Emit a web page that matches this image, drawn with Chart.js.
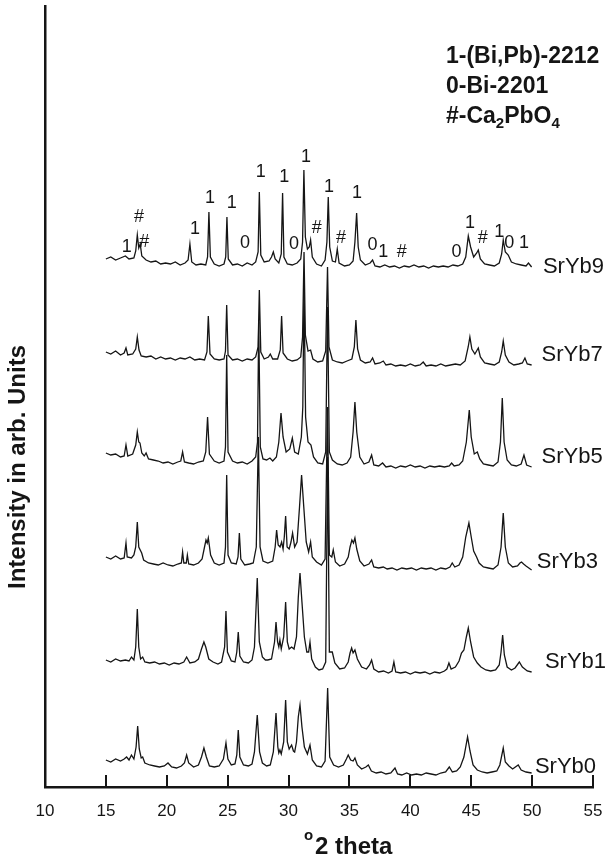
<!DOCTYPE html>
<html>
<head>
<meta charset="utf-8">
<script src="https://cdn.jsdelivr.net/npm/chart.js@4.4.1/dist/chart.umd.min.js"></script>
<style>
  html, body { margin: 0; padding: 0; background: #fff; }
  #c { display: block; }
</style>
</head>
<body>
<canvas id="c" width="610" height="858"></canvas>
<script>
// ---- Data: [2theta, intensity (arb. units)] ----
const srYb9 = [[15.0,528],[15.4,530],[15.8,527],[16.2,529],[16.6,531],[16.9,528],[17.3,529],[17.45,536],[17.58,552],[17.7,539],[17.82,543],[17.95,531],[18.3,527],[18.7,525],[19.1,526],[19.5,523],[19.9,524],[20.3,523],[20.7,525],[21.1,522],[21.5,524],[21.75,527],[21.9,543],[22.05,525],[22.4,522],[22.8,523],[23.2,522],[23.35,530],[23.46,575],[23.58,530],[23.9,523],[24.3,521],[24.7,523],[24.84,530],[24.94,570],[25.05,528],[25.4,522],[25.8,523],[26.2,521],[26.6,524],[27.0,522],[27.3,525],[27.5,535],[27.6,595],[27.72,532],[28.0,525],[28.4,526],[28.6,530],[28.75,535],[28.9,528],[29.2,524],[29.4,533],[29.51,594],[29.62,530],[29.9,523],[30.3,522],[30.7,524],[31.0,528],[31.15,545],[31.26,617],[31.38,550],[31.55,538],[31.7,540],[31.81,547],[31.95,530],[32.3,523],[32.7,521],[33.0,527],[33.15,545],[33.26,590],[33.38,540],[33.6,526],[33.85,525],[34.0,538],[34.15,524],[34.6,521],[35.0,522],[35.3,526],[35.45,545],[35.59,574],[35.72,540],[35.9,527],[36.3,522],[36.7,524],[36.9,527],[37.1,521],[37.5,520],[37.9,522],[38.3,520],[38.7,521],[39.1,519],[39.5,521],[39.9,520],[40.3,522],[40.7,520],[41.1,521],[41.5,519],[41.9,521],[42.3,520],[42.7,521],[43.1,520],[43.5,522],[43.9,521],[44.3,523],[44.55,530],[44.76,551],[44.95,540],[45.2,530],[45.45,534],[45.58,537],[45.75,528],[46.1,523],[46.5,522],[46.9,521],[47.3,524],[47.5,533],[47.63,547],[47.8,535],[48.04,532],[48.3,525],[48.7,523],[49.1,522],[49.5,521],[49.7,524],[49.96,520]];

const srYb7 = [[15.0,435],[15.4,433],[15.8,436],[16.2,432],[16.5,434],[16.65,439],[16.8,432],[17.2,433],[17.45,438],[17.58,450],[17.72,437],[17.9,431],[18.3,430],[18.7,431],[19.1,428],[19.5,430],[19.9,428],[20.3,429],[20.7,427],[21.1,429],[21.5,428],[21.9,430],[22.3,427],[22.7,428],[23.1,427],[23.3,435],[23.41,471],[23.55,433],[23.9,428],[24.3,427],[24.7,428],[24.82,436],[24.92,482],[25.03,432],[25.4,427],[25.8,428],[26.2,426],[26.6,428],[27.0,427],[27.3,430],[27.5,440],[27.6,497],[27.72,435],[28.0,428],[28.35,430],[28.5,433],[28.7,428],[29.1,428],[29.32,437],[29.43,471],[29.55,434],[29.9,428],[30.3,426],[30.7,427],[31.0,430],[31.15,450],[31.27,535],[31.38,452],[31.6,436],[31.81,437],[32.0,428],[32.4,425],[32.8,426],[33.05,436],[33.2,520],[33.32,440],[33.6,427],[34.0,425],[34.4,424],[34.8,426],[35.2,428],[35.4,440],[35.53,467],[35.67,438],[35.9,427],[36.3,424],[36.7,425],[36.9,429],[37.1,423],[37.5,424],[37.78,426],[38.0,422],[38.4,423],[38.8,421],[39.2,422],[39.6,421],[40.0,423],[40.4,421],[40.8,422],[41.06,425],[41.3,421],[41.7,422],[42.1,421],[42.5,423],[42.9,421],[43.3,422],[43.7,423],[44.1,422],[44.5,426],[44.75,440],[44.89,450],[45.05,438],[45.3,433],[45.58,439],[45.75,430],[46.1,424],[46.5,423],[46.9,422],[47.3,425],[47.5,435],[47.63,446],[47.8,432],[48.1,425],[48.5,422],[48.9,423],[49.2,424],[49.41,429],[49.6,423],[49.96,422]];

const srYb5 = [[15.0,334],[15.4,332],[15.8,333],[16.2,330],[16.5,331],[16.65,342],[16.8,331],[17.2,333],[17.45,342],[17.58,355],[17.7,345],[17.8,344],[17.95,334],[18.15,331],[18.3,334],[18.5,328],[18.9,327],[19.3,326],[19.7,324],[20.1,325],[20.5,323],[20.9,325],[21.15,326],[21.3,335],[21.45,325],[21.8,324],[22.2,323],[22.6,325],[23.0,326],[23.2,335],[23.35,370],[23.5,333],[23.9,326],[24.3,324],[24.7,326],[24.82,340],[24.92,432],[25.03,335],[25.4,326],[25.8,324],[26.2,325],[26.6,323],[27.0,326],[27.3,330],[27.45,345],[27.55,465],[27.68,340],[27.9,328],[28.2,327],[28.47,329],[28.7,326],[29.0,330],[29.2,345],[29.38,374],[29.55,350],[29.8,335],[30.1,338],[30.31,349],[30.5,335],[30.8,333],[31.05,350],[31.17,380],[31.27,500],[31.4,370],[31.6,345],[31.84,342],[32.05,330],[32.4,324],[32.8,323],[33.05,335],[33.2,480],[33.35,335],[33.6,327],[34.0,323],[34.4,322],[34.8,324],[35.1,330],[35.3,355],[35.45,385],[35.6,355],[35.85,330],[36.2,323],[36.6,325],[36.82,332],[37.0,322],[37.4,321],[37.72,324],[38.0,320],[38.4,321],[38.8,319],[39.2,321],[39.6,320],[40.0,322],[40.4,320],[40.8,321],[41.2,319],[41.6,321],[42.0,320],[42.4,321],[42.8,320],[43.2,321],[43.39,324],[43.6,321],[44.0,322],[44.3,326],[44.6,345],[44.84,377],[45.0,350],[45.25,333],[45.5,335],[45.7,328],[46.0,323],[46.4,322],[46.8,321],[47.2,325],[47.4,345],[47.55,389],[47.7,345],[47.95,327],[48.3,322],[48.7,321],[49.1,323],[49.33,332],[49.55,322],[49.96,320]];

const srYb3 = [[15.0,230],[15.4,228],[15.8,231],[16.2,228],[16.5,229],[16.65,244],[16.75,230],[17.1,229],[17.3,232],[17.45,240],[17.58,265],[17.7,240],[17.94,234],[18.1,227],[18.5,224],[18.9,223],[19.3,222],[19.7,224],[20.1,222],[20.5,221],[20.9,223],[21.2,224],[21.3,235],[21.4,224],[21.6,224],[21.69,232],[21.8,223],[22.2,222],[22.6,224],[22.9,228],[23.1,240],[23.22,247],[23.32,244],[23.41,249],[23.6,232],[23.9,224],[24.3,222],[24.7,224],[24.82,240],[24.92,312],[25.03,232],[25.3,224],[25.7,223],[25.85,230],[25.96,254],[26.08,228],[26.4,222],[26.8,223],[27.1,224],[27.35,240],[27.52,350],[27.66,240],[27.9,226],[28.3,224],[28.7,226],[28.9,240],[29.02,257],[29.15,242],[29.3,240],[29.43,245],[29.55,238],[29.65,250],[29.76,271],[29.88,240],[30.05,238],[30.2,245],[30.33,254],[30.5,240],[30.7,245],[30.9,280],[31.07,312],[31.25,280],[31.45,245],[31.65,235],[31.81,245],[31.95,230],[32.3,225],[32.7,222],[33.0,228],[33.2,380],[33.35,232],[33.55,230],[33.67,237],[33.85,225],[34.2,221],[34.6,223],[34.9,230],[35.05,240],[35.2,247],[35.33,244],[35.45,249],[35.6,238],[35.85,226],[36.2,221],[36.6,223],[36.82,227],[37.0,220],[37.4,219],[37.78,220],[38.1,218],[38.5,219],[38.9,217],[39.3,219],[39.7,218],[40.1,219],[40.5,217],[40.9,219],[41.3,218],[41.7,219],[42.1,217],[42.5,219],[42.9,218],[43.25,220],[43.44,224],[43.65,220],[44.0,222],[44.3,230],[44.55,250],[44.81,264],[45.0,250],[45.2,236],[45.44,230],[45.65,224],[46.0,220],[46.4,219],[46.8,218],[47.2,222],[47.45,240],[47.63,274],[47.8,240],[48.05,224],[48.4,220],[48.8,221],[49.0,224],[49.13,225],[49.3,223],[49.5,221],[49.96,217]];

const srYb1 = [[15.0,127],[15.4,125],[15.8,128],[16.2,126],[16.6,127],[16.9,126],[17.1,130],[17.3,127],[17.45,140],[17.58,178],[17.7,140],[17.85,128],[18.02,130],[18.2,125],[18.6,124],[19.0,125],[19.4,123],[19.8,124],[20.2,122],[20.6,124],[21.0,123],[21.4,125],[21.63,130],[21.9,124],[22.3,125],[22.6,128],[22.85,138],[23.05,145],[23.2,140],[23.45,128],[23.8,125],[24.2,123],[24.5,125],[24.75,140],[24.86,176],[24.98,135],[25.3,126],[25.6,125],[25.75,135],[25.87,155],[26.0,131],[26.3,125],[26.7,124],[27.0,127],[27.2,140],[27.43,209],[27.6,145],[27.85,130],[28.1,127],[28.3,127],[28.6,128],[28.85,145],[28.97,165],[29.1,145],[29.2,140],[29.29,147],[29.4,138],[29.6,150],[29.76,185],[29.9,145],[30.05,138],[30.25,140],[30.45,138],[30.65,150],[30.8,190],[30.94,214],[31.1,185],[31.3,150],[31.5,135],[31.65,135],[31.76,145],[31.9,128],[32.2,120],[32.5,117],[32.8,118],[33.05,125],[33.21,330],[33.35,135],[33.59,135],[33.8,124],[34.2,118],[34.6,119],[34.9,125],[35.05,134],[35.18,139],[35.3,134],[35.45,137],[35.65,128],[36.0,120],[36.4,118],[36.65,122],[36.82,127],[37.0,118],[37.4,115],[37.8,116],[38.2,114],[38.5,116],[38.65,125],[38.8,115],[39.2,114],[39.6,115],[40.0,113],[40.4,115],[40.8,114],[41.2,115],[41.6,113],[42.0,115],[42.4,114],[42.8,116],[43.0,118],[43.17,124],[43.35,118],[43.7,120],[44.0,126],[44.2,134],[44.4,137],[44.6,150],[44.76,159],[44.95,145],[45.2,130],[45.5,124],[45.8,120],[46.2,117],[46.6,116],[47.0,117],[47.3,122],[47.45,135],[47.58,152],[47.72,132],[47.95,120],[48.3,117],[48.6,119],[48.95,125],[49.2,120],[49.6,116],[49.96,115]];

const srYb0 = [[15.0,27],[15.4,25],[15.8,28],[16.2,26],[16.5,28],[16.7,30],[16.9,27],[17.1,32],[17.3,28],[17.48,40],[17.61,61],[17.74,38],[17.9,29],[18.02,30],[18.2,24],[18.6,22],[19.0,21],[19.4,20],[19.8,21],[20.1,24],[20.4,20],[20.8,19],[21.2,21],[21.45,24],[21.63,32],[21.8,24],[22.2,20],[22.6,22],[22.85,30],[23.05,39],[23.25,30],[23.5,21],[23.9,20],[24.3,21],[24.65,28],[24.86,44],[25.02,28],[25.3,22],[25.6,23],[25.75,32],[25.87,57],[26.0,30],[26.3,22],[26.7,21],[27.0,23],[27.2,35],[27.43,72],[27.62,35],[27.85,24],[28.2,21],[28.5,22],[28.75,35],[28.97,74],[29.12,40],[29.2,34],[29.29,37],[29.4,33],[29.6,45],[29.76,87],[29.9,45],[30.05,38],[30.25,42],[30.4,36],[30.5,35],[30.65,45],[30.8,70],[30.94,82],[31.1,60],[31.3,40],[31.55,33],[31.76,42],[31.95,27],[32.3,21],[32.7,20],[33.0,26],[33.21,99],[33.38,30],[33.7,22],[34.1,20],[34.5,22],[34.75,28],[34.9,32],[35.1,27],[35.3,26],[35.45,29],[35.65,22],[36.0,18],[36.35,20],[36.55,22],[36.8,16],[37.2,14],[37.6,15],[38.0,13],[38.4,14],[38.74,19],[38.95,13],[39.3,12],[39.7,14],[40.1,12],[40.5,13],[40.9,12],[41.3,14],[41.7,13],[42.1,12],[42.5,14],[42.9,15],[43.2,20],[43.45,15],[43.8,16],[44.1,20],[44.4,30],[44.7,50],[44.9,36],[45.15,22],[45.5,17],[45.9,15],[46.3,14],[46.7,15],[47.1,16],[47.35,22],[47.63,39],[47.8,25],[48.1,21],[48.4,18],[48.86,22],[49.1,17],[49.5,15],[49.96,14]];

// series names and where their name label sits (2theta, intensity)
const seriesNames = ['SrYb9','SrYb7','SrYb5','SrYb3','SrYb1','SrYb0'];
const seriesLabelX = [50.89, 50.78, 50.78, 50.39, 51.05, 50.23];
const seriesLabelY = [520, 432, 330, 225, 125, 20];

// phase markers above SrYb9
const markText = ['1','#','#','1','1','1','0','1','1','0','1','#','1','#','1','0','1','#','0','1','#','1','0','1'];
const markX    = [16.71,17.72,18.15,22.32,23.55,25.33,26.42,27.71,29.65,30.44,31.43,32.31,33.32,34.30,35.62,36.90,37.78,39.29,43.80,44.89,45.94,47.30,48.12,49.33];
const markY    = [540,570,545,558,589,584,544,615,610,543,630,559,600,549,594,542,535,535,535,564,549,555,544,544];

// axis ticks
const xTicks = [10,15,20,25,30,35,40,45,50,55];

const FONT = "'Liberation Sans', Arial, Helvetica, sans-serif";
const INK = '#151515';

const seriesData = [srYb9, srYb7, srYb5, srYb3, srYb1, srYb0];

const decor = {
  id: 'decor',
  afterDraw(chart) {
    const {ctx, scales: {x, y}, chartArea: ca} = chart;
    ctx.save();
    // inward tick marks on x axis
    ctx.strokeStyle = INK;
    ctx.lineWidth = 2;
    xTicks.forEach(t => {
      const px = Math.round(x.getPixelForValue(t));
      ctx.beginPath();
      ctx.moveTo(px, ca.bottom);
      ctx.lineTo(px, ca.bottom - 12);
      ctx.stroke();
    });
    // phase marks
    ctx.fillStyle = INK;
    ctx.font = '18px ' + FONT;
    ctx.textAlign = 'center';
    ctx.textBaseline = 'middle';
    markText.forEach((t, i) => {
      ctx.fillText(t, x.getPixelForValue(markX[i]), y.getPixelForValue(markY[i]));
    });
    // series names
    ctx.font = '22px ' + FONT;
    ctx.textAlign = 'left';
    seriesNames.forEach((n, i) => {
      ctx.fillText(n, x.getPixelForValue(seriesLabelX[i]), y.getPixelForValue(seriesLabelY[i]));
    });
    // phase key (top right)
    ctx.textBaseline = 'alphabetic';
    const kx = 446;
    ctx.font = 'bold 23px ' + FONT;
    ctx.fillText('1-(Bi,Pb)-2212', kx, 63);
    ctx.fillText('0-Bi-2201', kx, 93);
    let cx = kx;
    const part = (txt, size, dy) => {
      ctx.font = 'bold ' + size + 'px ' + FONT;
      ctx.fillText(txt, cx, 123 + dy);
      cx += ctx.measureText(txt).width;
    };
    part('#-Ca', 23, 0);
    part('2', 15, 5);
    part('PbO', 23, 0);
    part('4', 15, 5);
    // x title
    ctx.font = 'bold 15px ' + FONT;
    ctx.fillText('o', 304, 840);
    ctx.font = 'bold 24px ' + FONT;
    ctx.fillText('2 theta', 315, 854);
    // y title
    ctx.translate(18, 467);
    ctx.rotate(-Math.PI / 2);
    ctx.textAlign = 'center';
    ctx.textBaseline = 'middle';
    ctx.font = 'bold 24px ' + FONT;
    ctx.fillText('Intensity in arb. Units', 0, 0);
    ctx.restore();
  }
};

new Chart(document.getElementById('c'), {
  type: 'line',
  data: {
    datasets: seriesData.map((s, i) => ({
      label: seriesNames[i],
      data: s.map(([a, b]) => ({x: a, y: b})),
      borderColor: INK,
      borderWidth: 1.3,
      pointRadius: 0,
      tension: 0,
      fill: false
    }))
  },
  options: {
    responsive: false,
    animation: false,
    devicePixelRatio: 1,
    layout: {padding: {top: 6, right: 17, left: 0, bottom: 0}},
    plugins: {legend: {display: false}, tooltip: {enabled: false}, title: {display: false}},
    scales: {
      x: {
        type: 'linear', min: 10, max: 55,
        afterBuildTicks(s) { s.ticks = xTicks.map(v => ({value: v})); },
        ticks: {font: {size: 17, family: FONT}, color: INK, padding: 6, maxRotation: 0, autoSkip: false},
        grid: {display: false},
        border: {display: true, color: INK, width: 2.5},
        afterFit(s) { s.height = 71; }
      },
      y: {
        type: 'linear', min: 0, max: 781,
        ticks: {display: false},
        grid: {display: false},
        border: {display: true, color: INK, width: 2.5},
        afterFit(s) { s.width = 45; }
      }
    }
  },
  plugins: [decor]
});
</script>
</body>
</html>
